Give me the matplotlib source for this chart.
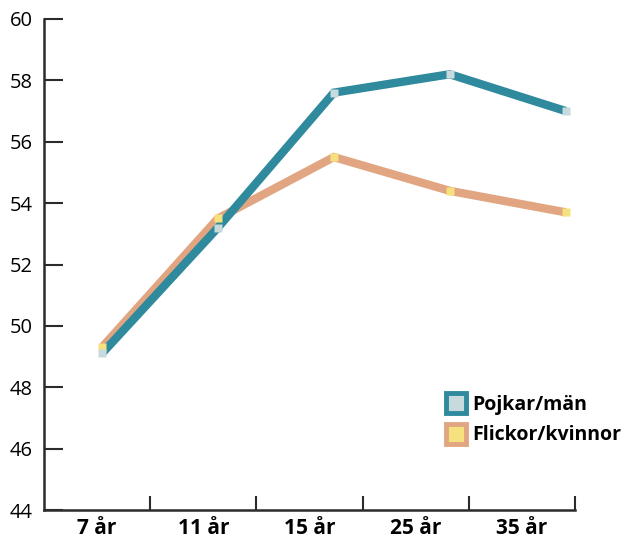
import matplotlib
matplotlib.use("Agg")
import matplotlib.pyplot as plt
from matplotlib.lines import Line2D

categories = ["7 år", "11 år", "15 år", "25 år", "35 år"]
pojkar = [49.1, 53.2, 57.6, 58.2, 57.0]
flickor = [49.3, 53.5, 55.5, 54.4, 53.7]
yticks = [44, 46, 48, 50, 52, 54, 56, 58, 60]

teal = "#2e8a9c"
teal_m = "#c7dadd"
salmon = "#e2a582"
salmon_m = "#f5e27e"
axcol = "#2b2b2b"

plt.rcParams['font.family'] = ['Open Sans', 'DejaVu Sans']

fig = plt.figure(figsize=(6.31, 5.39), dpi=100)
ax = fig.add_axes([44/631, 1-510/539, (575-44)/631, (510-19)/539])

# category band axis
n = len(categories)
ax.set_xlim(0, n)
ax.set_ylim(44, 60)
ax.set_xticks([i + 0.5 for i in range(n)])
ax.set_xticklabels(categories, fontsize=15, fontweight='bold')
ax.set_xticks(list(range(1, n + 1)), minor=True)
ax.tick_params(axis='x', which='major', length=0, pad=6)
ax.tick_params(axis='x', which='minor', direction='in', length=10, width=1.5, color=axcol)
ax.set_yticks(yticks)
ax.set_yticklabels([str(v) for v in yticks], fontsize=14.5)
ax.tick_params(axis='y', direction='in', length=14, width=1.5, color=axcol, pad=8)
for s in ['top', 'right']:
    ax.spines[s].set_visible(False)
for s in ['left', 'bottom']:
    ax.spines[s].set_linewidth(1.8)
    ax.spines[s].set_color(axcol)

# line axis (point positions differ from band centres)
lx = fig.add_axes(ax.get_position(), frameon=False)
lx.set_xlim(-0.5, 4.08)
lx.set_ylim(44, 60)
lx.set_xticks([]); lx.set_yticks([])
xs = list(range(n))
lx.plot(xs, flickor, color=salmon, lw=6, solid_capstyle='butt', solid_joinstyle='miter', zorder=2)
lx.plot(xs, pojkar, color=teal, lw=6, solid_capstyle='butt', solid_joinstyle='miter', zorder=3)
lx.plot(xs, flickor, ls='none', marker='s', ms=6, mfc=salmon_m, mec='none', zorder=4)
lx.plot(xs, pojkar, ls='none', marker='s', ms=6, mfc=teal_m, mec='none', zorder=5)

handles = [
    Line2D([], [], ls='none', marker='s', ms=14, mfc=teal_m, mec=teal, mew=3.5),
    Line2D([], [], ls='none', marker='s', ms=14, mfc=salmon_m, mec=salmon, mew=3.5),
]
leg = lx.legend(handles, ["Pojkar/män", "Flickor/kvinnor"], loc='upper left',
                bbox_to_anchor=(437/631, 1-387/539), bbox_transform=fig.transFigure,
                frameon=False, prop={'weight': 'bold', 'size': 14},
                handletextpad=0.2, labelspacing=0.55, handlelength=1.2, borderaxespad=0)

fig.savefig("out.png", dpi=100)
